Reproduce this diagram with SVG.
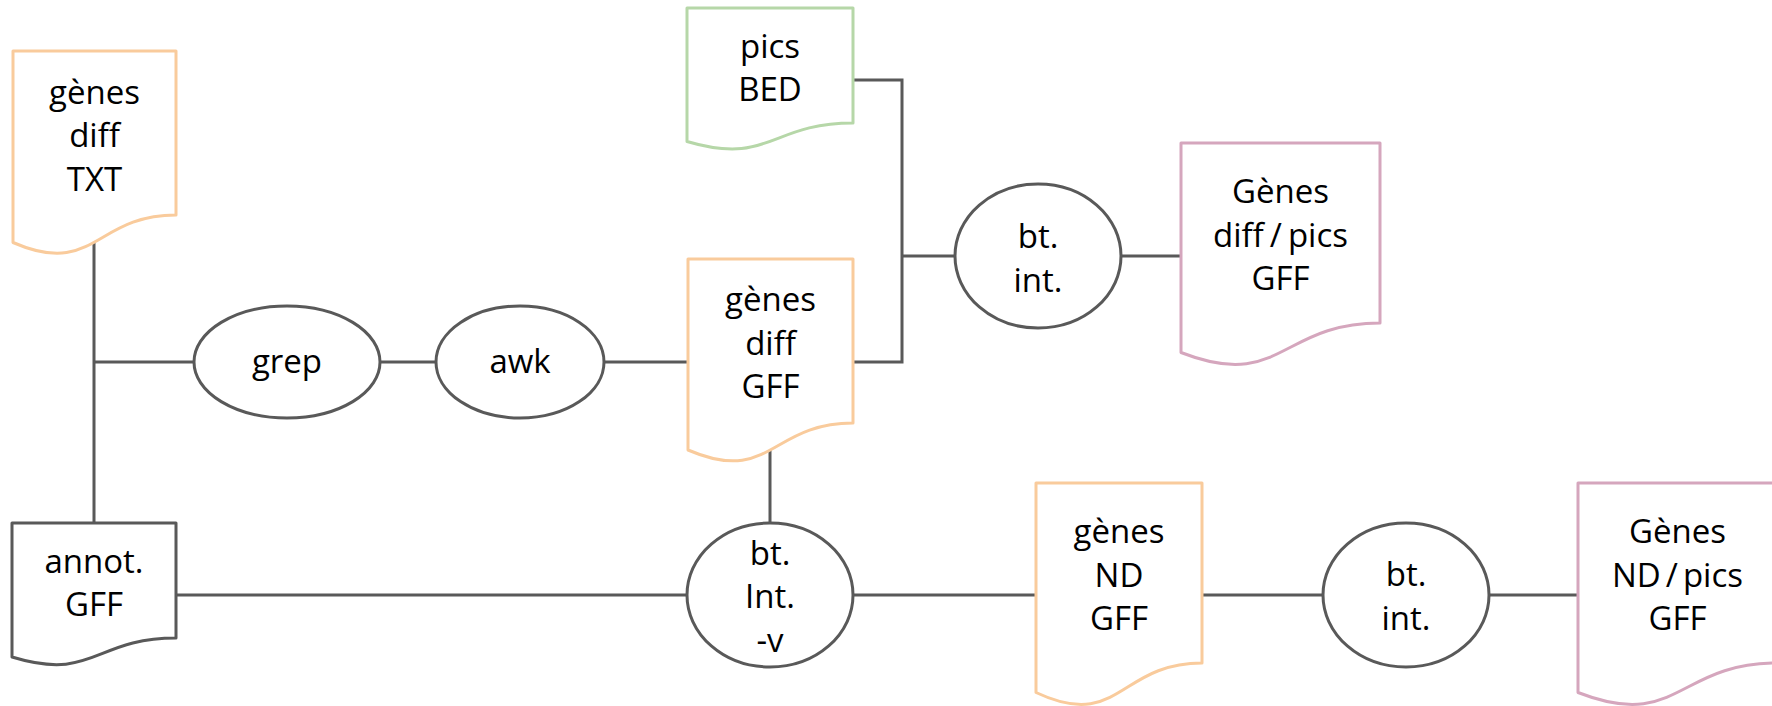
<svg xmlns="http://www.w3.org/2000/svg" width="1772" height="706" viewBox="0 0 1772 706">
<style>
.doc{fill:#fff;stroke-width:3;stroke-linejoin:round}
.or{stroke:#F9CB9C}.gr{stroke:#B6D7A8}.pk{stroke:#D5A6BD}.dk{stroke:#595959}
.op{fill:#fff;stroke:#595959;stroke-width:3}
.cn{fill:none;stroke:#595959;stroke-width:3}
text{font-family:"Open Sans","Noto Sans","DejaVu Sans",sans-serif;font-size:33px;fill:#000;text-anchor:middle}
</style>
<rect width="1772" height="706" fill="#fff"/>
<g id="connectors">
<path class="cn" d="M94,230 V523"/>
<path class="cn" d="M94,362 H194"/>
<path class="cn" d="M380,362 H436"/>
<path class="cn" d="M605,362 H688"/>
<path class="cn" d="M853,80 H902 V362 H853"/>
<path class="cn" d="M902,256 H955"/>
<path class="cn" d="M1121,256 H1181"/>
<path class="cn" d="M770,440 V523"/>
<path class="cn" d="M176,595 H687"/>
<path class="cn" d="M853,595 H1036"/>
<path class="cn" d="M1202,595 H1323"/>
<path class="cn" d="M1490,595 H1578"/>
</g>
<g id="doc-genes-diff-txt">
<path class="doc or" d="M13,51 H176 V215 C94.5,215 94.5,278 13,242.5 Z"/>
<text x="94.5" y="103.5">gènes</text><text x="94.5" y="147">diff</text><text x="94.5" y="190.5">TXT</text>
</g>
<g id="doc-pics-bed">
<path class="doc gr" d="M687,8 H853 V123 C770,123 770,166 687,141.5 Z"/>
<text x="770" y="58">pics</text><text x="770" y="101">BED</text>
</g>
<g id="doc-genes-diff-gff">
<path class="doc or" d="M688,259 H853 V423 C770.5,423 770.5,485.5 688,450 Z"/>
<text x="770.5" y="311">gènes</text><text x="770.5" y="355">diff</text><text x="770.5" y="398">GFF</text>
</g>
<g id="doc-genes-diff-pics-gff">
<path class="doc pk" d="M1181,143 H1380 V323 C1280.5,323 1280.5,391.5 1181,352.5 Z"/>
<text x="1280.5" y="203">Gènes</text><text x="1280.5" y="247">diff<tspan dx="6">/</tspan><tspan dx="6">pics</tspan></text><text x="1280.5" y="290">GFF</text>
</g>
<g id="doc-annot-gff">
<path class="doc dk" d="M12,523 H176 V638 C94,638 94,682 12,657 Z"/>
<text x="94" y="573">annot.</text><text x="94" y="616">GFF</text>
</g>
<g id="doc-genes-nd-gff">
<path class="doc or" d="M1036,483 H1202 V663 C1119,663 1119,731.5 1036,692.5 Z"/>
<text x="1119" y="543">gènes</text><text x="1119" y="587">ND</text><text x="1119" y="630">GFF</text>
</g>
<g id="doc-genes-nd-pics-gff">
<path class="doc pk" d="M1578,483 H1777 V663 C1677.5,663 1677.5,731.5 1578,692.5 Z"/>
<text x="1677.5" y="543">Gènes</text><text x="1677.5" y="587">ND<tspan dx="5">/</tspan><tspan dx="5">pics</tspan></text><text x="1677.5" y="630">GFF</text>
</g>
<g id="op-grep">
<ellipse class="op" cx="287" cy="362" rx="93" ry="56"/>
<text x="287" y="373">grep</text>
</g>
<g id="op-awk">
<ellipse class="op" cx="520" cy="362" rx="84" ry="56"/>
<text x="520" y="373">awk</text>
</g>
<g id="op-bt-int-top">
<ellipse class="op" cx="1038" cy="256" rx="83" ry="72"/>
<text x="1038" y="248">bt.</text><text x="1038" y="292">int.</text>
</g>
<g id="op-bt-int-v">
<ellipse class="op" cx="770" cy="595" rx="83" ry="72"/>
<text x="770" y="565">bt.</text><text x="770" y="608">Int.</text><text x="770" y="652">-v</text>
</g>
<g id="op-bt-int-bottom">
<ellipse class="op" cx="1406" cy="595" rx="83" ry="72"/>
<text x="1406" y="586">bt.</text><text x="1406" y="630">int.</text>
</g>
</svg>
